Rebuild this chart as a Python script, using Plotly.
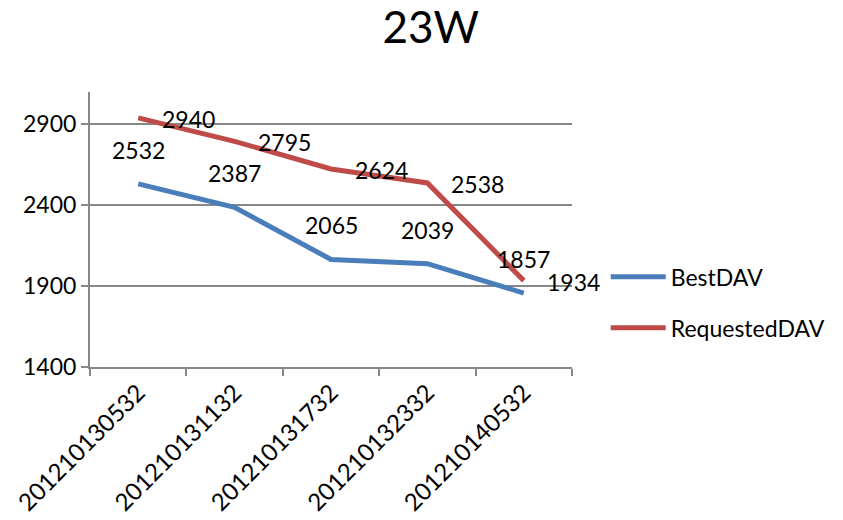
import plotly.graph_objects as go

# Sample timestamps (yyyymmddhhmm) shown on the category axis
timestamps = ["201210130532", "201210131132", "201210131732", "201210132332", "201210140532"]

best_dav = [2532, 2387, 2065, 2039, 1857]
requested_dav = [2940, 2795, 2624, 2538, 1934]

y_ticks = [1400, 1900, 2400, 2900]

FONT = "Lato"
BLUE = "#4A7EBB"
RED = "#BE4B48"
GRID = "#878787"

fig = go.Figure()

fig.add_trace(go.Scatter(
    x=timestamps, y=best_dav, name="BestDAV", mode="lines",
    line=dict(color=BLUE, width=5), legendgroup="a",
))
fig.add_trace(go.Scatter(
    x=timestamps, y=requested_dav, name="RequestedDAV", mode="lines",
    line=dict(color=RED, width=5), legendgroup="b",
))

# value labels: BestDAV above its points, RequestedDAV to the right
# (category positions given by index so the numeric-looking names are not parsed as numbers)
for i, v in enumerate(best_dav):
    fig.add_annotation(x=i, y=v, xref="x", yref="y", text=str(v), showarrow=False,
                       yshift=34, font=dict(family=FONT, size=23, color="black"))
for i, v in enumerate(requested_dav):
    fig.add_annotation(x=i, y=v, xref="x", yref="y", text=str(v), showarrow=False,
                       xshift=50, yshift=-1, font=dict(family=FONT, size=23, color="black"))

fig.update_layout(
    width=843, height=520,
    margin=dict(l=90, r=271, t=92, b=153),
    paper_bgcolor="white", plot_bgcolor="white",
    font=dict(family=FONT, size=23, color="black"),
    title=dict(text="23W", x=0.511, xanchor="center", y=0.946, yanchor="middle",
               font=dict(family=FONT, size=44, color="black")),
    showlegend=True,
    legend=dict(x=1.07, xanchor="left", y=0.235, yanchor="middle",
                font=dict(family=FONT, size=23, color="black"),
                tracegroupgap=18, itemwidth=55, bgcolor="rgba(0,0,0,0)"),
    xaxis=dict(
        type="category", tickson="boundaries", ticks="outside", ticklen=7,
        tickcolor=GRID, tickwidth=2, showline=True, linecolor=GRID, linewidth=2,
        showgrid=False, tickangle=-45, tickfont=dict(family=FONT, size=24),
        range=[-0.5, len(timestamps) - 0.5], automargin=False,
    ),
    yaxis=dict(
        range=[1400, 3100], tickvals=y_ticks, ticks="outside", ticklen=7,
        tickcolor=GRID, tickwidth=2, showline=True, linecolor=GRID, linewidth=2,
        showgrid=True, gridcolor=GRID, gridwidth=2, zeroline=False,
        tickfont=dict(family=FONT, size=23), automargin=False,
    ),
)

fig.write_html("out.html")
